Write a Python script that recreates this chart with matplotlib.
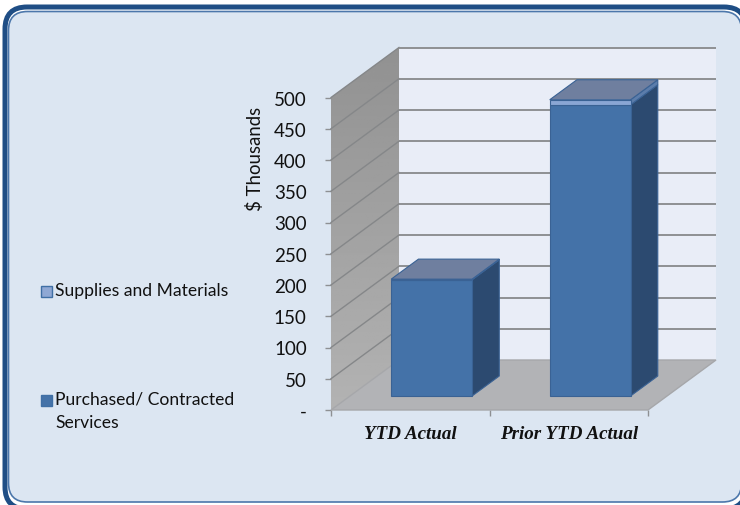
import matplotlib
matplotlib.use("Agg")
import matplotlib.pyplot as plt
import numpy as np
from matplotlib.patches import FancyBboxPatch, Rectangle, Polygon

categories = ["YTD Actual", "Prior YTD Actual"]
purchased = [186, 466]
supplies = [1, 8]
y_ticks = [0, 50, 100, 150, 200, 250, 300, 350, 400, 450, 500]
y_labels = ["-", "50", "100", "150", "200", "250", "300", "350", "400", "450", "500"]

W, H = 740, 506
UI = "Lato"
FRONT = "#4472A8"
SIDE = "#2C4A70"
TOP = "#6F7F9F"
LIGHT_FRONT = "#8AA6D4"
LIGHT_SIDE = "#5C7DAB"
EDGE = "#3A6294"
GRID = "#8E9093"

# depth of the 3d box in data units
DX = 0.429
DY = 80.0
BAR_X = [0.26, 1.26]
BAR_W = 0.51
D0, D1 = 0.28, 0.68


def proj(x, v, d):
    return (x + d * DX, v + d * DY)


def px_box(x0, y0, x1, y1):
    return [x0 / W, 1 - y1 / H, (x1 - x0) / W, (y1 - y0) / H]


fig = plt.figure(figsize=(7.4, 5.06), dpi=100, facecolor="white")

# panel behind everything, right and bottom edges run off the canvas
bg = fig.add_axes([0, 0, 1, 1])
bg.set_xlim(0, W)
bg.set_ylim(H, 0)
bg.axis("off")
bg.add_patch(FancyBboxPatch((5, 8), 741, 502, boxstyle="round,pad=0,rounding_size=22",
                            fc="white", ec="#1F4E85", lw=3.6))
bg.add_patch(FancyBboxPatch((8.5, 12.5), 733, 490.5, boxstyle="round,pad=0,rounding_size=19",
                            fc="#DCE6F2", ec="#4C77AB", lw=1.2))

# legend drawn by hand, the second entry wraps
bg.add_patch(Rectangle((40.5, 286.5), 11, 11, fc="#8FA8D4", ec="#3F6FA5", lw=1))
bg.add_patch(Rectangle((40.5, 395.5), 11, 11, fc=FRONT, ec="#3F6FA5", lw=1))
bg.text(55, 291, "Supplies and Materials", fontsize=12.6, family=UI, va="center", color="#111111")
bg.text(55, 400, "Purchased/ Contracted", fontsize=12.6, family=UI, va="center", color="#111111")
bg.text(55, 423, "Services", fontsize=12.6, family=UI, va="center", color="#111111")

ax = fig.add_axes(px_box(331, 98.5, 648, 411))
ax.patch.set_alpha(0)
for s in ax.spines.values():
    s.set_visible(False)

# back wall
wall = [proj(0, 0, 1), proj(2, 0, 1), proj(2, 500, 1), proj(0, 500, 1)]
ax.add_patch(Polygon(wall, fc="#E9EDF7", ec="none", clip_on=False, zorder=1))

# side wall with a grey gradient
side = Polygon([proj(0, 0, 0), proj(0, 0, 1), proj(0, 500, 1), proj(0, 500, 0)],
               fc="none", ec="none", clip_on=False, zorder=1)
ax.add_patch(side)
grad = np.linspace(0.57, 0.70, 128).reshape(-1, 1)
im = ax.imshow(grad, extent=(0, DX, 0, 580), origin="upper", cmap="gray", vmin=0, vmax=1,
               aspect="auto", zorder=1)
im.set_clip_box(fig.bbox)
im.set_clip_path(side)

# floor
floor = [proj(0, 0, 0), proj(2, 0, 0), proj(2, 0, 1), proj(0, 0, 1)]
ax.add_patch(Polygon(floor, fc="#B2B3B6", ec="#A6A7AA", lw=1, clip_on=False, zorder=2))

# grid lines run along the side wall then the back wall
for v in y_ticks[1:]:
    xs, ys = zip(proj(0, v, 0), proj(0, v, 1))
    ax.plot(xs, ys, color="#858789", lw=1, clip_on=False, zorder=2)
    xs, ys = zip(proj(0, v, 1), proj(2, v, 1))
    ax.plot(xs, ys, color=GRID, lw=1.4, clip_on=False, zorder=2, solid_capstyle="butt")


def bar_seg(x, v0, v1, front, side_c, top_c=None):
    a, b = x, x + BAR_W
    ax.add_patch(Polygon([proj(b, v0, D0), proj(b, v0, D1), proj(b, v1, D1), proj(b, v1, D0)],
                         fc=side_c, ec=EDGE, lw=0.8, clip_on=False, zorder=4))
    ax.add_patch(Polygon([proj(a, v0, D0), proj(b, v0, D0), proj(b, v1, D0), proj(a, v1, D0)],
                         fc=front, ec=EDGE, lw=0.8, clip_on=False, zorder=5))
    if top_c:
        ax.add_patch(Polygon([proj(a, v1, D0), proj(b, v1, D0), proj(b, v1, D1), proj(a, v1, D1)],
                             fc=top_c, ec=EDGE, lw=0.8, clip_on=False, zorder=6))


for i in range(len(categories)):
    bar_seg(BAR_X[i], 0, purchased[i], FRONT, SIDE)
    bar_seg(BAR_X[i], purchased[i], purchased[i] + supplies[i], LIGHT_FRONT, LIGHT_SIDE, TOP)

ax.set_xlim(0, 2)
ax.set_ylim(0, 500)
ax.set_yticks(y_ticks)
ax.set_yticklabels(y_labels, fontsize=13.5, family=UI, color="#111111")
ax.tick_params(axis="y", length=4.5, width=1, color=GRID, pad=13)
ax.set_xticks([0, 1, 2])
ax.set_xticklabels([])
ax.set_xticks([0.5, 1.5], minor=True)
ax.set_xticklabels(categories, minor=True, fontsize=13.7, family="Liberation Serif",
                   style="italic", weight="bold", color="#111111")
ax.tick_params(axis="x", which="major", length=4, width=1, color=GRID)
ax.tick_params(axis="x", which="minor", length=0, pad=11)
ax.set_ylabel("\\$ Thousands", fontsize=13.4, family=UI, color="#111111", y=0.805, labelpad=7)

fig.savefig("out.png", dpi=100)
